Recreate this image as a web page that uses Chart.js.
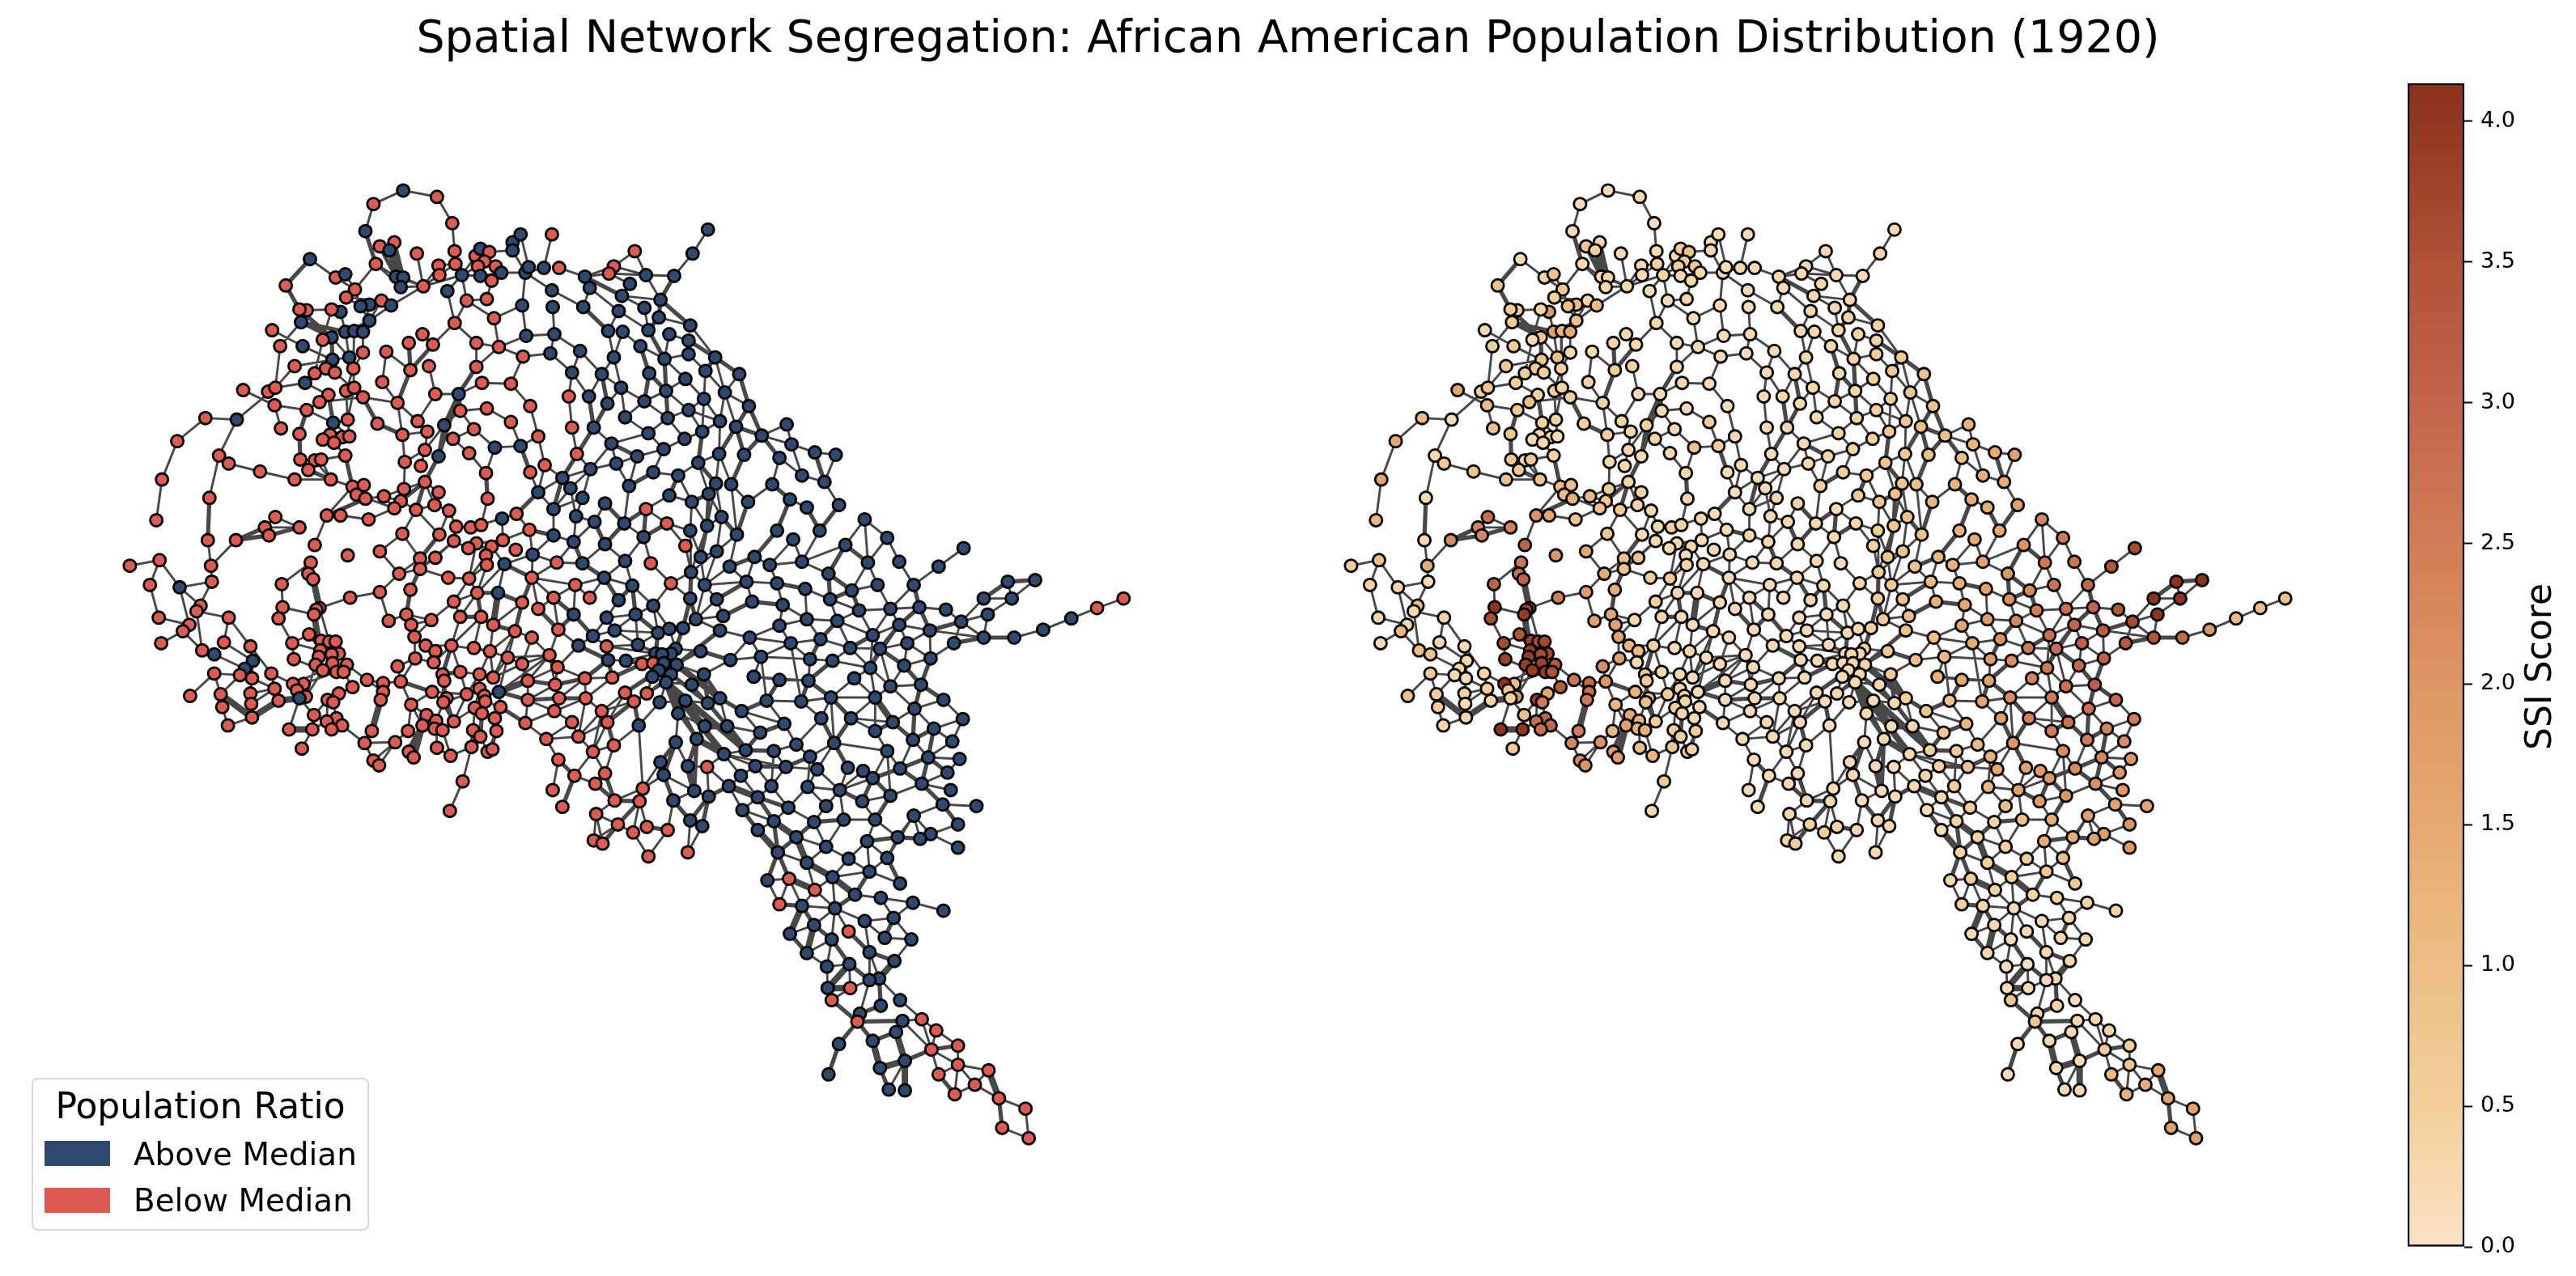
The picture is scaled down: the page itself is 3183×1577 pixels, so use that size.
<!DOCTYPE html>
<html>
<head>
<meta charset="utf-8">
<title>Spatial Network Segregation</title>
<script src="https://cdn.jsdelivr.net/npm/chart.js@4"></script>
<style>
  html, body { margin: 0; background: #fff; font-family: "DejaVu Sans", sans-serif; color: #000; }
  #stage { position: relative; width: 3183px; height: 1577px; overflow: hidden; }
  canvas { position: absolute; }
  #title { position: absolute; left: 0; width: 3183px; top: 10px; text-align: center; font-size: 55.4px; line-height: 70px; white-space: nowrap; }
  #legend { position: absolute; left: 39px; top: 1332px; width: 413px; height: 185px; border: 2.5px solid #d8d8d8; border-radius: 8px; background: #fff; }
  #legend .head { position: absolute; left: 0; width: 413px; top: 3px; text-align: center; font-size: 44px; line-height: 60px; white-space: nowrap; }
  #legend .swatch { position: absolute; left: 14px; width: 81px; height: 31px; }
  #legend .name { position: absolute; left: 124px; font-size: 38.9px; line-height: 50px; white-space: nowrap; }
  #cbarLabel { position: absolute; left: 3137px; top: 824px; font-size: 44px; line-height: 50px; white-space: nowrap; transform: translate(-50%, -50%) rotate(-90deg); }
</style>
</head>
<body>
<div id="stage">
  <canvas id="network" width="3183" height="1577" style="left:0;top:0;width:3183px;height:1577px"></canvas>
  <canvas id="cbar" width="283" height="1577" style="left:2900px;top:0;width:283px;height:1577px"></canvas>
  <div id="title">Spatial Network Segregation: African American Population Distribution (1920)</div>
  <div id="legend">
    <div class="head">Population Ratio</div>
    <div class="swatch" style="top:76px;background:#2e4a70"></div><div class="name" style="top:68px">Above Median</div>
    <div class="swatch" style="top:134px;background:#dd5b50"></div><div class="name" style="top:125px">Below Median</div>
  </div>
  <div id="cbarLabel">SSI Score</div>
</div>
<script>
// node positions
const nodeX = [
491,454,533,552,444,462,480,474,508,555,
457,535,556,581,587,598,592,584,606,613,
627,627,564,587,601,536,482,491,488,516,
546,570,595,375,407,419,345,431,420,464,
476,449,438,413,402,371,362,364,449,604,
555,328,419,430,441,402,391,338,366,441,
424,403,515,498,528,470,582,610,500,523,
582,356,395,381,406,429,465,589,625,369,
292,323,332,420,430,398,441,484,531,560,
387,331,371,562,595,625,245,284,422,404,
459,509,542,521,490,579,339,362,400,415,
424,391,405,210,553,605,637,518,535,262,
274,363,381,389,419,493,573,513,373,313,
594,518,191,356,401,428,442,492,535,433,
467,444,250,596,488,530,637,676,643,647,
666,685,717,753,747,779,793,828,851,870,
723,773,676,639,677,715,763,811,791,759,
809,848,644,679,746,764,796,822,846,640,
674,711,786,753,816,846,879,701,738,797,
842,867,909,762,818,697,722,865,891,791,
745,649,921,846,767,820,885,701,728,905,
968,796,863,937,659,841,750,974,815,707,
884,915,1003,1029,782,959,756,858,667,649,
724,802,833,689,987,880,899,950,1015,772,
699,659,822,871,714,742,850,920,972,1033,
480,507,548,332,396,413,448,184,319,362,
324,557,575,588,614,632,490,536,248,283,
554,615,381,582,601,572,631,462,422,594,
512,531,188,376,252,595,617,151,512,486,
373,379,547,573,253,176,340,213,500,462,
583,609,425,554,239,234,341,387,383,380,
495,187,274,336,562,588,526,473,603,501,
225,217,630,374,505,268,190,353,389,399,
407,519,551,579,301,531,599,241,388,411,
402,256,304,506,621,386,355,529,382,403,
421,294,484,391,408,417,256,327,288,540,
562,586,603,303,446,542,488,466,367,354,
331,428,586,527,466,610,359,264,226,301,
411,570,592,545,370,362,463,397,593,404,
336,302,541,501,266,612,580,589,380,520,
303,605,408,532,554,396,415,515,273,530,
349,378,402,540,452,497,578,607,587,443,
481,365,533,576,596,602,498,504,550,454,
461,565,549,993,678,793,706,729,766,819,
887,869,848,956,1009,1065,1093,648,678,703,
790,906,976,742,842,1041,652,881,767,861,
928,987,1069,682,714,799,947,897,849,651,
741,1020,956,918,705,776,824,866,1081,1049,
991,678,723,759,848,881,925,1022,639,659,
802,963,1058,1097,703,780,744,889,855,993,
1031,959,754,684,808,822,839,885,1075,727,
651,922,1010,973,783,744,709,1047,1084,830,
805,824,813,861,673,936,639,997,1025,746,
768,788,802,815,831,898,683,1072,809,824,
801,865,927,717,751,818,646,959,995,1052,
680,850,1097,767,794,1023,1078,646,685,718,
885,778,842,810,870,943,986,833,912,679,
738,1048,1011,701,745,643,965,1100,784,866,
894,935,1078,669,709,830,856,753,980,1027,
917,952,727,1093,890,997,684,811,869,845,
929,967,1006,1044,1063,815,742,704,911,1075,
730,896,949,994,789,677,853,1034,871,932,
1097,754,785,827,1062,970,1017,689,913,731,
848,758,952,1039,794,863,1002,1108,1188,1157,
1126,1133,1166,1213,1243,1277,1248,1218,1185,1108,
1146,1213,1251,1287,1322,1354,1387,1118,1176,1147,
1114,1135,1163,1127,1187,1151,1125,1174,1144,1183,
1109,1168,1136,1172,1162,1204,1126,1078,1181,1147,
1134,1106,1068,1017,1181,932,980,957,1045,1093,
993,1071,1025,944,971,1109,1003,1053,1085,1125,
1163,959,987,1028,1065,1101,1002,1045,972,1024,
1090,1123,1071,993,1102,1046,1018,1083,1071,1019,
1047,1024,1109,1085,1059,1056,1112,1136,1154,1104,
1075,1033,1181,1148,1115,1084,1181,1219,1157,1020,
1202,1095,1115,1177,1232,1265,1236,1269,777,820,
845,728,739,796];
const nodeY = [
228,245,236,269,279,298,293,303,307,304,
320,322,320,310,301,305,317,323,323,331,
293,303,334,335,341,334,336,337,349,348,
354,366,364,314,337,333,347,352,362,366,
372,371,373,380,377,378,377,393,391,388,
394,403,405,404,405,412,415,423,423,431,
437,440,408,419,421,430,419,424,453,448,
449,448,451,457,456,451,468,469,470,469,
478,480,475,479,475,484,487,494,483,483,
493,497,503,504,501,518,513,515,515,519,
520,517,522,530,534,527,526,533,534,537,
536,540,544,542,539,550,548,553,561,560,
570,565,566,565,560,568,557,573,578,580,
582,593,590,590,590,599,597,602,606,609,
611,614,613,614,617,622,283,283,331,324,
325,325,336,323,332,304,334,335,307,277,
350,345,353,372,374,374,360,365,375,379,
387,397,410,408,404,405,403,408,416,436,
432,429,423,437,439,433,437,456,458,457,
464,454,458,475,479,486,486,489,481,492,
495,498,498,503,512,513,517,525,525,524,
521,532,530,535,536,539,545,546,552,558,
558,559,556,559,561,563,570,569,572,581,
577,581,585,588,585,595,596,596,593,598,
601,606,610,608,613,620,618,618,615,622,
626,628,629,637,635,635,640,641,650,650,
660,649,650,647,639,633,658,659,666,666,
667,666,672,670,674,676,678,680,685,685,
689,688,691,694,698,697,696,698,702,708,
708,715,713,714,718,722,721,725,728,731,
732,732,738,743,748,755,750,751,753,759,
759,763,763,764,762,762,766,767,772,772,
772,780,780,784,787,794,795,795,792,793,
793,798,798,801,799,805,805,804,804,808,
809,809,817,814,813,812,815,819,822,820,
822,827,824,829,831,831,833,833,835,834,
831,834,838,839,841,842,843,845,846,846,
852,850,852,856,856,856,854,859,861,858,
858,859,861,864,862,864,866,866,868,869,
867,871,869,872,875,875,876,883,885,885,
888,889,889,892,893,893,898,898,898,902,
903,903,903,904,905,905,904,905,912,920,
919,927,926,925,931,928,931,938,936,942,
948,968,1005,625,627,627,636,643,645,645,
637,648,654,654,654,640,663,653,660,668,
662,659,665,671,673,672,684,680,692,687,
687,693,694,694,695,695,697,699,706,713,
713,708,720,718,722,723,720,722,722,729,
727,738,738,741,739,740,743,740,744,752,
748,747,754,752,759,759,763,761,765,765,
767,773,779,778,782,777,776,779,785,786,
788,788,790,795,797,799,798,801,802,802,
808,808,809,805,810,812,821,815,817,816,
817,821,820,820,822,816,825,826,829,834,
837,834,837,839,838,844,842,841,842,839,
847,847,849,857,858,863,863,866,864,864,
864,868,867,869,870,867,868,883,880,880,
880,889,889,894,894,895,896,894,898,899,
899,907,905,915,912,919,915,923,922,920,
929,930,931,930,934,937,941,944,950,949,
949,950,953,951,955,960,958,961,961,964,
971,974,974,975,977,979,980,979,987,988,
986,992,993,992,993,1001,999,1000,1004,1009,
1017,1022,1018,1016,1025,1024,1019,693,676,699,
722,750,753,739,718,716,739,759,768,772,
779,788,788,778,764,751,739,795,795,814,
823,847,866,877,890,902,916,918,938,940,
952,957,971,979,997,999,1011,1016,1022,1034,
1040,1038,1043,1050,1051,1029,1038,1057,1065,1064,
1070,1081,1088,1092,1090,1096,1104,1110,1114,1120,
1130,1122,1124,1127,1143,1139,1148,1156,1159,1166,
1164,1166,1182,1183,1193,1197,1200,1215,1217,1227,
1227,1242,1242,1249,1259,1269,1268,1266,1280,1282,
1293,1297,1299,1304,1318,1327,1323,1330,1335,1335,
1348,1354,1355,1360,1365,1378,1402,1415,1032,1029,
1057,1042,1046,1062];
// SSI per node
const nodeSsi = [
.2,.2,.2,.2,.2,.8,.4,.5,.2,.2,
.2,.3,.5,.3,.6,.9,.7,.6,.7,.3,
.2,.3,.4,.3,.3,.3,.3,.4,.3,.3,
.2,.2,.3,.2,.4,.8,.9,.8,.5,.4,
1.1,1.1,1,1.9,.4,.6,.6,.7,1,.2,
.3,.3,1.8,1.3,1.5,.7,.3,.6,.6,.3,
1,.8,.3,.4,.3,.3,.2,.3,.6,.5,
.3,.7,.7,.6,.5,.5,.4,.3,.2,.5,
1.6,.5,.8,.5,.4,.5,.6,.5,.2,.3,
1,1,.7,.3,.2,.5,1.1,.2,.4,.4,
.5,.4,.6,.3,.5,.3,.9,.8,.3,.3,
.2,.2,.3,1.6,.4,.9,.6,.3,.3,.2,
.7,.7,.4,.7,.4,.3,.3,.3,.7,.9,
.3,.4,1.6,.9,.9,1.1,1,.7,.4,1,
1.2,1.3,.2,.3,.7,.4,.2,.2,.2,.2,
.3,.2,.3,.3,.3,.2,.3,.3,.3,.3,
.2,.3,.2,.2,.2,.3,.3,.3,.3,.3,
.4,.4,.2,.2,.3,.3,.3,.4,.4,.2,
.2,.2,.3,.3,.4,.5,.7,.2,.3,.3,
.5,.7,.9,.3,.3,.2,.3,.6,.8,.3,
.3,.2,.9,.5,.3,.4,.7,.2,.3,1,
1.3,.4,.7,1,.2,.6,.3,1.2,.4,.2,
.8,1,1.4,1.7,.4,1,.3,.8,.2,.2,
.2,.5,.7,.2,1.4,.8,1,1.2,1.4,.5,
.2,.2,.7,.9,.3,.4,.8,1.2,1.4,1.8,
1,.7,.3,2.8,2.1,1.6,.8,1.2,2.4,2.4,
2.3,.3,.5,.4,.3,.2,.8,.3,.2,2.2,
.3,.2,3,.3,.3,.2,.2,1.6,2,.2,
1,.9,1,2.6,1.4,.3,.2,.6,.9,1.5,
2.8,3.1,.6,.7,.2,.4,3.1,.3,1.4,1.9,
.3,.2,2.5,.5,1,.3,4.1,3.7,3.8,3.9,
1.6,.3,.4,3.6,.3,.2,.3,1.7,.2,1.7,
.3,1.2,.2,3.4,1.7,.3,.2,3.6,3.8,3.6,
3.7,1.2,.5,.2,.2,1.1,.3,1,3.9,3.7,
3.6,.9,.3,1.8,.2,3.9,3.8,.3,3.9,3.8,
3.4,.4,2.2,3.9,3.9,3.5,.7,.3,.3,.8,
.3,.3,.2,.2,2.7,.6,2,2.9,1.1,4.1,
.5,3.3,.3,1.2,2.8,.2,.8,.5,.9,.4,
1.5,.6,.4,1,2,.5,2.6,3.9,.4,2.6,
.4,.2,1,1.2,.6,.3,.6,.3,1,1.6,
.3,.3,3,1.3,.6,2.8,3,1.7,.3,1.3,
4.1,4,2.8,1.3,2.5,1.2,.6,.5,.6,2.3,
2.1,.7,1,.8,.5,.4,1.8,1.8,1.2,2.3,
2,.7,.3,1.4,.3,.2,.3,.3,.3,.3,
.9,.8,.6,1.3,1.5,2.3,2.6,.2,.3,.3,
.3,.9,1.5,.3,.4,2.1,.2,.8,.3,.7,
1.2,1.7,2.6,.2,.3,.2,1.3,.9,.6,.2,
.3,2,1.3,1.1,.2,.3,.3,.7,2.7,2.3,
1.7,.2,.2,.3,.6,.9,1.3,2.1,.2,.2,
.2,1.6,2.5,2.8,.2,.2,.2,1,.7,1.8,
2.3,1.6,.2,.2,.2,.3,.5,.9,2.8,.2,
.2,1,2.1,1.5,.2,.2,.2,2.6,2.8,.5,
.2,.3,.3,.7,.2,1.2,.2,1.8,2.2,.2,
.2,.2,.2,.3,.4,.9,.2,2.6,.2,.3,
.2,.7,1.3,.2,.2,.3,.2,1.5,1.7,2.4,
.2,.3,2.8,.2,.3,2.2,2.6,.2,.2,.2,
.5,.2,.2,.2,.3,.9,1.6,.3,.8,.2,
.2,2.4,1.8,.2,.2,.2,1.2,2.7,.2,.2,
.3,.8,2.5,.2,.2,.2,.3,.2,1.1,2,
.5,.7,.2,2.2,.3,1.3,.2,.2,.2,.2,
.4,.9,1.5,1.7,1.9,.2,.2,.2,.4,2,
.2,.3,.5,1.2,.2,.2,.2,1.7,.2,.3,
2,.3,.3,.2,1.8,.5,1,.2,.2,.3,
.3,.5,.4,.9,.4,.3,.4,2.7,3.6,3.4,
3,3,3.4,4.1,4.1,4.1,4.1,4,3.6,3,
3.2,3.4,2.9,2,1.1,1,.9,3.1,3.3,3.1,
3,3.1,3,2.8,2.5,2.4,2.5,2.2,2.3,2,
2.2,1.9,2.1,2,1.7,1.6,1.8,1.4,2,1.8,
1.7,1.4,1.4,.5,1.9,.2,.4,.4,.6,1,
.5,.7,.5,.3,.6,.7,.5,.4,.5,.4,
.4,.5,.3,.2,.2,.4,.3,.2,.2,.2,
.3,.3,.2,.3,.3,.1,.2,.3,.2,.2,
.2,.8,.2,.4,.4,.8,.3,.3,.4,.3,
.3,.2,.5,.6,.2,.2,.9,1.6,1.1,.2,
1.4,.2,.2,1.3,1.7,1.7,1.7,1.7,.5,.3,
.3,.3,.6,.2];
// nodes above the median among the first 433, below the median among the rest
const splitAt = 433;
const aboveHead = [0,4,7,14,19,20,21,22,23,26,27,28,30,33,35,40,41,42,43,47,48,52,53,54,55,58,60,61,79,89,97,99,102,115,116,118,
146,148,149,150,152,156,157,158,159,160,161,162,163,164,165,166,167,168,169,170,171,172,173,174,175,176,177,178,180,181,182,183,184,185,186,187,188,189,190,191,192,193,194,196,197,198,199,200,202,203,204,205,206,208,209,210,211,212,213,215,216,217,218,220,221,222,223,224,225,226,227,230,231,232,233,234,235,236,237,238,239,240,241,242,243,244,245,246,247,248,249,
264,286,297,301,341,342,351,375,385];
const belowTail = [435,439,447,454,463,465,469,474,476,481,482,488,489,503,510,515,524,526,531,532,536,543,544,546,550,553,554,557,558,559,561,569,570,573,574,575,583,584,587,592,596,598,606,607,610,614,615,621,622,627,629,631,634,
655,656,694,696,701,707,720,721,725,727,728,732,733,736,737,738,740,743,744,745,746,747,748,749,750,751,752,753];
// edges as flat from,to index pairs, by drawn weight
const edgesThin = [
4,1,1,0,0,2,2,3,3,9,9,12,8,29,10,37,11,29,25,29,12,29,22,29,26,29,27,29,28,29,40,29,10,28,10,26,11,12,13,22,17,22,22,23,23,19,23,24,18,24,19,148,15,21,14,13,15,16,16,17,18,16,24,32,32,31,22,31,30,22,30,50,31,50,31,49,49,163,49,67,50,66,50,64,66,67,66,70,67,172,67,70,77,89,77,78,88,89,88,69,62,64,65,68,65,76,76,87,87,86,87,101,87,104,88,101,101,103,93,94,93,105,93,102,94,95,105,115,105,114,102,117,103,117,103,104,104,125,114,126,126,130,115,116,115,130,117,125,117,127,125,137,131,138,137,144,135,136,134,135,134,133,133,129,129,120,120,119,119,142,119,97,97,96,96,113,113,132,132,257,97,82,82,81,80,91,82,79,82,71,91,92,91,106,92,99,79,85,71,61,57,82,51,58,58,61,57,47,33,34,34,37,35,37,37,42,38,42,38,39,39,40,41,54,42,48,43,52,44,43,44,45,44,56,45,46,48,52,48,40,41,40,48,54,48,39,52,53,53,54,52,60,55,60,56,73,60,61,53,75,54,59,59,75,60,75,75,84,84,98,83,98,75,83,61,74,72,74,73,74,74,86,73,79,90,92,90,86,98,99,99,110,98,110,99,108,99,112,108,109,111,108,111,112,112,124,121,122,122,123,123,124,122,128,121,128,122,134,123,134,133,134,139,135,141,135,136,141,140,141,140,137,140,144,143,263,138,145,145,252,145,251,252,267,
146,21,146,149,20,21,21,148,147,150,148,149,148,150,148,163,148,162,151,152,152,153,152,154,152,160,153,155,153,156,154,156,155,156,156,157,156,167,157,158,158,159,161,154,161,166,166,167,166,168,170,171,160,165,160,169,162,165,164,173,163,172,172,173,172,67,173,180,173,181,180,179,179,67,179,78,180,187,181,187,181,188,187,195,187,196,188,183,188,196,188,193,183,174,183,175,183,193,169,174,169,176,174,183,175,182,182,184,177,184,177,178,178,185,184,185,171,186,168,176,184,190,185,191,186,198,190,194,190,197,191,197,191,198,192,198,198,202,198,209,198,206,197,206,197,203,197,212,193,199,193,204,193,200,199,194,194,203,199,204,199,205,203,205,203,206,203,212,205,211,205,215,204,211,195,207,207,219,208,216,208,219,211,216,211,218,216,230,216,226,219,230,224,226,224,218,224,239,226,230,226,239,218,231,218,215,215,212,212,206,206,220,220,235,220,236,220,227,213,217,213,210,210,217,217,222,217,234,222,223,223,238,225,237,225,234,234,238,238,249,227,232,227,243,231,232,232,246,236,247,237,247,230,233,230,240,230,244,233,240,233,241,241,228,241,229,228,214,201,214,201,78,214,116,228,233,95,94,95,116,
241,434,240,434,240,436,244,436,244,434,245,437,239,438,242,435,435,439,439,454,439,442,242,246,246,441,246,442,243,440,235,440,235,441,440,441,236,451,248,433,445,446,445,455,446,462,452,461,444,461,461,455,461,471,462,478,264,271,265,264,265,447,447,271,447,456,434,448,436,437,436,449,437,449,448,449,448,456,449,463,438,453,453,464,453,458,450,458,450,465,458,470,458,475,456,463,456,469,463,464,463,469,465,476,454,468,451,457,441,468,442,459,442,468,457,459,457,477,457,468,459,477,468,476,468,477,476,484,476,490,475,490,470,474,470,482,470,475,474,481,474,482,474,494,474,469,469,488,469,489,469,463,481,503,481,489,481,494,488,318,488,301,503,494,
490,504,490,505,484,498,477,498,485,498,485,497,497,498,498,506,498,507,505,519,523,519,523,534,541,534,541,551,551,545,562,564,560,541,560,580,562,567,563,545,563,578,
322,318,322,510,510,524,510,526,322,344,344,526,344,524,526,524,526,362,536,543,524,550,536,550,546,550,546,557,558,550,559,570,559,543,543,544,515,529,516,536,516,503,503,524,509,502,502,514,509,496,494,509,494,503,496,495,496,502,495,514,490,495,514,520,530,520,530,531,554,540,561,553,561,545,574,553,574,561,578,614,570,574,587,578,570,561,569,557,569,558,569,573,573,583,575,557,575,583,583,584,583,596,584,574,584,559,584,592,573,584,592,570,592,587,592,606,592,607,596,615,607,610,606,610,606,587,606,621,610,621,614,622,614,621,614,597,614,605,585,605,585,599,597,605,605,616,616,618,616,623,598,618,598,611,594,579,594,590,594,601,594,600,590,581,591,588,591,601,591,612,600,608,600,601,600,612,608,611,608,619,611,618,611,628,612,601,612,619,612,625,613,602,613,617,613,625,613,595,595,602,602,617,589,602,603,617,604,617,609,617,617,670,617,626,617,633,
580,581,567,585,567,586,562,563,568,560,568,576,568,581,576,565,576,588,565,525,565,566,566,555,566,572,566,513,555,572,555,589,555,556,556,571,556,549,549,537,537,517,537,508,525,542,525,513,525,511,513,527,527,548,548,542,542,547,547,548,548,555,572,588,588,595,571,589,571,577,582,571,582,556,582,577,582,593,593,589,
460,467,460,473,467,473,473,472,472,466,466,460,452,466,473,477,473,486,472,480,472,491,486,497,485,477,480,487,480,499,487,492,487,500,500,499,492,500,492,493,499,501,501,491,499,512,501,513,512,513,512,517,517,500,517,528,517,508,517,518,508,500,508,537,528,527,528,537,507,511,511,501,511,513,511,535,535,525,535,541,535,523,525,527,
445,462,446,637,637,640,462,478,640,639,639,638,478,493,478,479,462,479,640,493,493,641,641,642,642,648,649,493,649,650,650,651,650,659,650,657,648,643,648,647,648,651,643,646,644,646,645,646,646,647,647,651,652,653,653,654,654,655,655,656,648,658,658,659,657,649,657,660,657,659,657,518,659,660,660,518,518,508,518,552,518,537,552,661,552,660,661,662,662,664,662,663,663,666,663,577,664,665,664,667,665,667,665,666,666,670,666,577,666,668,668,669,668,667,669,671,670,593,671,672,672,673,672,674,674,675,674,676,672,620,620,593,620,624,620,677,624,677,677,681,677,682,676,679,676,680,676,681,679,684,679,678,676,689,
629,751,629,752,629,631,621,629,631,751,622,748,622,634,631,748,748,753,749,753,749,623,630,635,630,750,635,750,
628,632,632,685,625,632,625,636,626,636,633,677,683,633,683,636,683,686,683,690,683,688,690,687,688,691,688,682,682,691,682,689,681,689,682,677,691,689,691,695,691,692,692,688,692,703,692,696,690,696,693,694,693,701,694,701,694,702,696,702,696,703,702,703,708,706,708,713,703,706,703,709,703,697,703,704,697,698,698,699,698,705,699,700,699,705,705,704,704,710,707,703,704,712,705,711,711,710,711,714,712,714,709,716,709,713,713,716,716,715,716,719,715,720,718,720,712,718,712,717,718,724,717,722,722,727,719,721,720,721,724,725,726,727,729,726,727,728,726,733,727,733,728,732,728,733,733,736,733,738,732,736,736,738,736,737,736,740,736,743,743,740,740,737,740,744,744,745,745,747,746,747,734,741,
145,131,137,131,250,140,250,139,279,274,285,279,274,271,273,271,273,275,286,274,300,285,300,286,301,286,293,285,293,279,303,293,292,288,292,293,288,289,280,289,281,288,277,289,266,280,277,266,266,251,251,267,251,144,256,250,250,144,255,256,254,135,254,272,253,259,253,258,258,259,258,260,268,284,284,294,284,269,283,296,296,306,306,313,306,309,313,327,327,323,327,338,290,291,283,290,307,302,302,299,299,317,299,289,323,338,309,328,307,329,282,287,282,295,282,297,297,294,295,311,311,320,297,320,297,304,294,305,305,312,304,305,305,337,312,325,312,334,320,321,321,326,321,337,337,341,341,351,325,342,334,342,334,357,342,363,356,358,358,351,358,377,358,363,377,394,356,378,356,377,394,408,408,400,363,379,379,391,391,400,370,379,370,391,370,390,357,369,357,370,351,363,363,370,369,368,369,376,368,384,376,384,384,385,385,410,385,398,411,421,411,398,346,353,327,346,348,384,353,384,353,369,368,354,354,355,350,355,350,364,364,367,364,374,371,355,380,389,380,371,380,387,389,387,389,402,387,398,387,405,402,406,405,412,406,412,402,412,405,411,406,419,419,420,419,414,386,374,374,367,367,366,366,352,366,343,366,393,352,343,343,324,343,347,347,335,335,331,331,324,324,319,319,310,319,316,316,310,316,303,310,317,316,324,347,359,
393,407,393,415,393,399,373,392,373,393,373,381,381,392,392,383,383,404,399,407,399,403,403,409,409,413,403,422,413,428,404,396,396,416,396,397,416,418,418,397,397,401,401,417,417,425,417,424,423,428,423,431,431,432,423,416,418,424,415,420,420,429,420,430,419,429,429,430,359,365,359,360,360,361,361,362,361,372,372,382,382,388,388,397,388,395,395,401,375,395,375,382,381,372,381,360,332,336,333,336,336,344,336,318,332,331,332,359,332,315,333,315,314,303,314,300,300,285,261,262,261,270,252,261,262,263,262,264,281,270,270,275,275,273,348,353,349,354,339,349,339,330,328,329,329,330,338,340,340,345,345,348,
375,524,375,344,322,362,515,514,515,520,509,515,502,504,514,504,514,522,
487,492,500,487,492,500,492,508,493,508,508,649,649,537,518,517,537,552,537,556,549,555,556,552,593,670,593,609,620,672,620,624,672,671,672,673,668,669,668,671,668,667,665,664,665,667,664,667,663,665,663,662,662,664,552,663,518,657,657,659,
472,480,466,461,461,471,487,500,500,499,499,491,499,501,501,513,499,512,512,513,512,517,527,548,528,517,517,537,517,508,479,492,487,492,508,492,493,508,547,548,542,525,535,525,525,513,511,501,507,511,473,472,477,467,485,498,541,535,541,534,551,564,560,564,562,564,588,595,595,589,589,602,601,591,601,602,612,601,612,619,612,625,625,613,613,626,626,617,611,608,594,600,594,608,598,594,598,599,585,599,616,618,618,630,619,628,628,632,628,611,
286,456,489,481,481,469,489,469,482,470,483,496,490,495,495,496,509,496,502,509,502,514,502,495,509,516,514,504,529,530,543,536,543,544,544,559,559,569,559,570,553,540,553,570,554,539,578,587,546,524,546,536,557,550,558,543,569,575,569,573,570,584,574,592,592,607,592,606,
434,448,436,449,453,464,438,450,450,458,450,465,454,468,459,477,457,477,440,457,451,457,451,467,458,475,465,476,
332,314,333,315,336,361,336,362,360,332,347,359,347,332,373,381,383,365,381,361,404,381,404,396,397,401,403,392,422,428,415,393,399,393,418,416,417,425,
359,383,396,372,397,388,322,336,344,362,303,316,303,300,300,293,275,274,273,293,270,288,288,292,554,545,554,561,567,579,586,567];
const edgesThick = [
33,36,36,46,47,55,46,55,47,52,4,10,5,26,6,26,6,27,7,26,7,27,7,28,70,89,64,68,63,68,68,87,89,93,89,102,104,100,100,86,118,102,131,144,107,121,107,92,85,99,128,134,124,135,130,143,55,61,116,229,
152,166,157,167,167,170,167,171,165,174,188,200,176,184,176,170,178,186,182,189,184,194,186,192,186,191,192,202,189,199,189,194,194,205,200,208,196,208,208,233,216,224,212,227,209,220,209,221,209,213,202,213,202,209,213,221,213,225,222,238,237,248,221,236,227,235,232,242,239,231,
241,265,233,434,435,438,245,438,435,450,439,450,246,243,243,441,440,451,247,451,248,443,433,444,249,444,443,460,455,462,455,471,447,448,449,464,437,453,441,459,464,470,468,484,475,483,470,483,489,503,469,286,
484,506,507,534,506,519,504,520,523,535,539,564,564,580,560,568,561,578,553,538,
322,488,536,524,526,546,557,558,559,558,557,375,543,550,544,529,516,529,544,531,531,532,574,587,575,395,596,607,607,627,
585,597,586,616,586,599,594,586,590,591,601,595,589,603,589,572,609,624,617,624,
576,581,548,566,
486,491,487,479,479,492,512,527,
640,641,641,650,649,641,650,648,643,644,644,645,651,652,651,658,659,661,661,663,668,671,668,670,670,672,674,678,681,680,
621,622,631,622,631,752,634,749,623,630,630,618,618,635,
628,685,632,687,636,686,636,633,686,687,682,681,687,693,687,694,691,697,689,695,702,701,702,706,706,709,703,697,714,712,710,705,712,707,709,715,713,708,718,715,717,723,723,724,721,725,725,731,731,739,725,726,725,730,730,729,729,726,733,732,733,734,735,741,738,743,744,746,
89,118,118,131,131,251,268,142,269,258,269,260,260,259,254,141,
471,479,471,487,487,479,508,517,649,518,537,518,518,660,660,661,571,589,572,589,571,555,582,577,577,666,609,670,609,620,620,677,672,668,672,674,665,668,666,665,663,666,661,662,
472,480,471,487,500,512,512,527,528,548,548,555,547,565,565,568,568,560,560,541,562,545,581,576,581,590,590,591,619,625,618,611,600,601,586,579,599,586,585,605,605,623,623,630,619,632,
301,488,469,488,481,494,503,494,494,509,516,529,530,531,529,543,543,550,544,531,559,558,553,561,561,574,561,578,546,550,557,558,575,395,574,587,606,621,610,621,607,596,
464,470,470,483,475,495,475,483,438,453,441,459,467,460,485,473,497,486,484,498,
318,322,315,314,332,359,366,373,392,365,418,397,416,423,
495,504,545,586,564,541,564,580,562,579,359,360,392,404,310,298,298,288,300,315,300,301,267,280];
const edgesHeavy = [
546,375,301,318,556,577,579,580,580,590,545,594,586,594,
545,567,545,579,545,590,534,560,599,616,611,619,
685,687,632,686,686,690,692,697,690,692,694,696,702,708,706,713,715,719,719,720,714,717,730,735,729,734,734,735,734,742,737,744,
309,338,291,307,377,400,400,390,390,385,410,411,414,386,407,426,407,427];

const colorStops = [[0,"#f9e2c4"],[.5,"#f3cf9a"],[1,"#edbe86"],[1.5,"#e6a970"],[2,"#de9665"],[2.5,"#d27d56"],[3,"#c3654a"],[3.5,"#af5236"],[4,"#92371f"],[4.135,"#8c321c"]];
const ssiTop = 4.135;

function hex(c) { return [1, 3, 5].map(i => parseInt(c.substr(i, 2), 16)); }
function ssiColor(v) {
  for (let i = 1; i < colorStops.length; i++) {
    if (v <= colorStops[i][0]) {
      const [a, ca] = colorStops[i - 1], [b, cb] = colorStops[i];
      const t = (v - a) / (b - a), p = hex(ca), q = hex(cb);
      return "rgb(" + p.map((u, k) => Math.round(u + (q[k] - u) * t)).join(",") + ")";
    }
  }
  return colorStops[colorStops.length - 1][1];
}
function edgePoints(list) {
  const out = [];
  for (let i = 0; i + 1 < list.length; i += 2) {
    const a = list[i], b = list[i + 1];
    out.push({ x: nodeX[a], y: nodeY[a] }, { x: nodeX[b], y: nodeY[b] }, { x: NaN, y: NaN });
  }
  return out;
}
const points = nodeX.map((x, i) => ({ x, y: nodeY[i] }));
const aboveSet = new Set(aboveHead);
const belowSet = new Set(belowTail);
const groupColors = nodeX.map((_, i) => (i < splitAt ? aboveSet.has(i) : !belowSet.has(i)) ? "#2e4a70" : "#dd5b50");
const ssiColors = nodeSsi.map(ssiColor);

function edgeSet(list, width, xAxisID) {
  return { type: "scatter", data: edgePoints(list), showLine: true, spanGaps: false, borderColor: "#484848", borderWidth: width, pointRadius: 0, xAxisID, yAxisID: "y", order: 3 };
}
function nodeSet(colors, xAxisID) {
  return { type: "scatter", data: points, backgroundColor: colors, borderColor: "#000", borderWidth: 2.8, pointRadius: 7.6, xAxisID, yAxisID: "y", order: 1 };
}
const hidden = { display: false };
new Chart(document.getElementById("network"), {
  type: "scatter",
  data: {
    datasets: [
      edgeSet(edgesThin, 2.9, "xLeft"), edgeSet(edgesThick, 5.2, "xLeft"), edgeSet(edgesHeavy, 8, "xLeft"),
      nodeSet(groupColors, "xLeft"),
      edgeSet(edgesThin, 2.9, "xRight"), edgeSet(edgesThick, 5.2, "xRight"), edgeSet(edgesHeavy, 8, "xRight"),
      nodeSet(ssiColors, "xRight")
    ]
  },
  options: {
    responsive: false, animation: false, events: [],
    layout: { padding: 0 },
    plugins: { legend: hidden, title: hidden, tooltip: { enabled: false } },
    scales: {
      xLeft: { type: "linear", display: false, min: 0, max: 3183 },
      xRight: { type: "linear", display: false, min: -1528 / 0.94, max: (3183 - 1528) / 0.94 },
      y: { type: "linear", display: false, reverse: true, min: 0, max: 1577 }
    }
  }
});

new Chart(document.getElementById("cbar"), {
  type: "bar",
  data: {
    labels: ["SSI"],
    datasets: [{
      data: [[0, ssiTop]],
      barPercentage: 1, categoryPercentage: 1,
      borderColor: "#000", borderWidth: 2.5, borderSkipped: false,
      backgroundColor(ctx) {
        const area = ctx.chart.chartArea;
        if (!area) return "#edbe86";
        const g = ctx.chart.ctx.createLinearGradient(0, area.bottom, 0, area.top);
        colorStops.forEach(([v, c]) => g.addColorStop(v / ssiTop, c));
        return g;
      }
    }]
  },
  options: {
    responsive: false, animation: false, events: [],
    layout: { padding: { left: 75, top: 103, bottom: 36, right: 0 } },
    plugins: { legend: hidden, tooltip: { enabled: false } },
    scales: {
      x: { display: false },
      y: {
        position: "right", min: 0, max: ssiTop,
        afterFit(scale) { scale.width = 138; },
        border: { display: false },
        grid: { drawOnChartArea: false, drawTicks: true, tickLength: 10, tickWidth: 2, tickColor: "#000" },
        ticks: { stepSize: 0.5, includeBounds: false, padding: 10, color: "#000", font: { family: "DejaVu Sans", size: 27 }, callback: v => v.toFixed(1) }
      }
    }
  }
});
</script>
</body>
</html>
